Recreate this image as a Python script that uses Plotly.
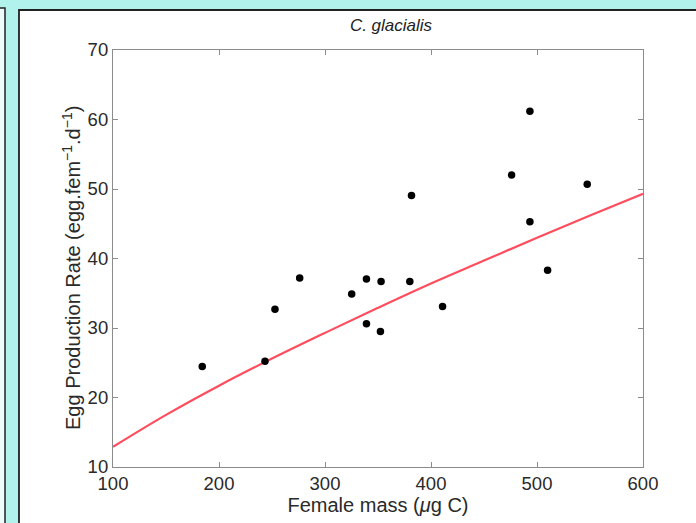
import plotly.graph_objects as go

# Observed data points (female mass in µg C, egg production rate)
mass = [184.2, 243.4, 252.8, 276.1, 325.2, 339.1, 339.1, 352.9, 352.3,
        380.0, 381.6, 410.9, 493.3, 476.0, 547.4, 493.3, 510.0]
epr = [24.45, 25.2, 32.7, 37.2, 34.9, 37.05, 30.6, 36.7, 29.5,
       36.7, 49.05, 33.1, 61.2, 52.0, 50.7, 45.3, 38.3]

# Fitted curve
fit_mass = [100, 150, 200, 250, 300, 350, 400, 450, 500, 550, 600]
fit_epr = [12.9, 17.5, 21.7, 25.6, 29.3, 32.9, 36.4, 39.7, 43.0, 46.2, 49.3]

x_ticks = [100, 200, 300, 400, 500, 600]
y_ticks = [10, 20, 30, 40, 50, 60, 70]

W, H = 696, 523
L, R, T, B = 113, 53, 50, 56
PW, PH = W - L - R, H - T - B


def px(x):
    return (x - L) / PW


def py(y):
    return (H - B - y) / PH


fig = go.Figure()
fig.add_trace(go.Scatter(x=fit_mass, y=fit_epr, mode="lines",
                         line=dict(color="#ff4d5e", width=2.2, shape="spline"),
                         showlegend=False, hoverinfo="skip"))
fig.add_trace(go.Scatter(x=mass, y=epr, mode="markers",
                         marker=dict(color="black", size=7.5),
                         showlegend=False))

font_fam = "Liberation Sans, Arial, Helvetica, sans-serif"
axis_common = dict(showline=True, mirror="ticks", linecolor="#8c8c8c", linewidth=1.2,
                   ticks="inside", tickcolor="#8c8c8c", ticklen=5, showgrid=False,
                   zeroline=False, tickfont=dict(family=font_fam, size=18.5, color="#2a2a2a"))

fig.update_layout(
    width=W, height=H,
    margin=dict(l=L, r=R, t=T, b=B),
    paper_bgcolor="#b2f2ec",
    plot_bgcolor="white",
    xaxis=dict(range=[100, 600], tickvals=x_ticks, **axis_common,
               title=dict(text="Female mass (<i>μ</i>g C)", standoff=0,
                          font=dict(family=font_fam, size=20, color="#2a2a2a"))),
    yaxis=dict(range=[10, 70], tickvals=y_ticks, **axis_common),
    title=dict(text="<i>C. glacialis</i>", x=px(391), xref="paper", xanchor="center",
               y=1 - 25 / H, yanchor="middle",
               font=dict(family=font_fam, size=17, color="#222")),
    annotations=[
        dict(text="Egg Production Rate (egg.fem<sup>−1</sup>.d<sup>−1</sup>)",
             xref="paper", yref="paper", x=px(71), y=py(268), showarrow=False,
             textangle=-90, xanchor="center", yanchor="middle",
             font=dict(family=font_fam, size=20, color="#2a2a2a")),
    ],
    shapes=[
        # left neighbouring panel
        dict(type="rect", xref="paper", yref="paper", x0=px(-20), x1=px(5), y0=py(8), y1=py(560),
             fillcolor="#eefbfa", line=dict(color="#222", width=1.5), layer="below"),
        # main white panel
        dict(type="rect", xref="paper", yref="paper", x0=px(19), x1=px(720), y0=py(10), y1=py(560),
             fillcolor="white", line=dict(color="#222", width=1.8), layer="below"),
    ],
)

fig.write_html("out.html")
